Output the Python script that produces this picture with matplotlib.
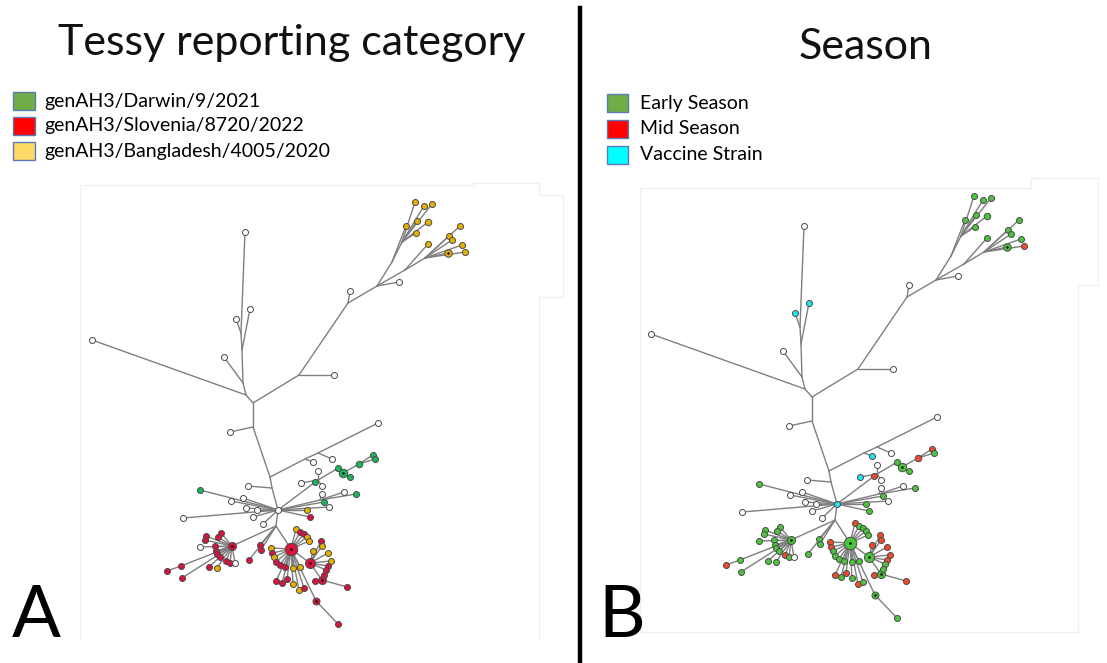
import numpy as np
import matplotlib.pyplot as plt
from matplotlib.patches import Rectangle

# tree nodes: (name, x, y, parent, tessy category, season)
# '-' = internal junction (no marker), 'ref' = reference / uncoloured strain
backbone = [
    ('m', 253, 403, None, '-', '-'),
    ('j3', 246, 395, 'm', '-', '-'),
    ('left', 92, 340, 'j3', 'ref', 'ref'),
    ('j2', 243, 383, 'j3', '-', '-'),
    ('n357', 224, 357, 'j2', 'ref', 'ref'),
    ('j1b', 242, 350, 'j2', '-', '-'),
    ('n309', 250, 309, 'j1b', 'ref', 'vac'),
    ('j1', 241, 333, 'j1b', '-', '-'),
    ('n319', 236, 319, 'j1', 'ref', 'vac'),
    ('top', 245, 232, 'j1', 'ref', 'ref'),
    ('r1', 299, 375, 'm', '-', '-'),
    ('n334', 334, 375, 'r1', 'ref', 'ref'),
    ('r2', 348, 303, 'r1', '-', '-'),
    ('n350', 350, 291, 'r2', 'ref', 'ref'),
    ('r3', 377, 286, 'r2', '-', '-'),
    ('n399', 399, 282, 'r3', 'ref', 'ref'),
    ('d1', 253, 427, 'm', '-', '-'),
    ('n230', 230, 432, 'd1', 'ref', 'ref'),
    ('d2', 270, 477, 'd1', '-', '-'),
    ('e1', 305, 459, 'd2', '-', '-'),
    ('n313', 313, 462, 'e1', 'ref', 'vac'),
    ('e2', 318, 453, 'e1', '-', '-'),
    ('n332', 332, 459, 'e2', 'ref', 'ref'),
    ('n378', 378, 423, 'e2', 'ref', 'ref'),
    ('d3', 272, 488, 'd2', '-', '-'),
    ('n248', 248, 486, 'd3', 'ref', 'ref'),
    ('h', 278, 510, 'd3', 'ref', 'vac'),
]

bangladesh_clade = [
    ('ya', 392, 262, 'r3', '-', '-'),
    ('y406', 406, 226, 'ya', 'ban', 'early'),
    ('yb', 402, 242, 'ya', '-', '-'),
    ('y415', 415, 202, 'yb', 'ban', 'early'),
    ('y424', 424, 206, 'yb', 'ban', 'early'),
    ('y432', 432, 204, 'yb', 'ban', 'early'),
    ('y417', 417, 221, 'yb', 'ban', 'early'),
    ('y428', 428, 222, 'yb', 'ban', 'early'),
    ('y416', 416, 233, 'yb', 'ban', 'early'),
    ('yc', 405, 270, 'r3', '-', '-'),
    ('y428b', 428, 244, 'yc', 'ban', 'early'),
    ('yd', 425, 258, 'yc', '-', '-'),
    ('y449', 449, 236, 'yd', 'ban', 'early'),
    ('y452', 452, 240, 'yd', 'ban', 'early'),
    ('y460', 460, 226, 'yd', 'ban', 'early'),
    ('y462', 462, 245, 'yd', 'ban', 'early'),
    ('y465', 465, 252, 'yd', 'ban', 'mid'),
    ('y448', 448, 253, 'yd', 'ban', 'early'),
]

darwin_clade = [
    ('g1', 318, 480, 'h', '-', '-'),
    ('g2', 335, 470, 'g1', '-', '-'),
    ('gbig', 343, 473, 'g2', 'dar', 'early'),
    ('g338', 338, 468, 'g2', 'dar', 'early'),
    ('g350', 350, 477, 'gbig', 'dar', 'early'),
    ('g359', 359, 464, 'gbig', 'dar', 'mid'),
    ('g373', 373, 455, 'g359', 'dar', 'mid'),
    ('g375', 375, 459, 'g359', 'dar', 'early'),
    ('g315', 315, 482, 'g1', 'dar', 'mid'),
    ('w301', 301, 483, 'g1', 'ref', 'vac'),
    ('w318', 318, 471, 'g1', 'ref', 'ref'),
    ('w322', 322, 486, 'g1', 'ref', 'ref'),
    ('g4', 320, 500, 'h', '-', '-'),
    ('w344', 344, 492, 'g4', 'ref', 'ref'),
    ('g356', 356, 494, 'g4', 'dar', 'early'),
    ('w322b', 322, 494, 'g4', 'ref', 'ref'),
    ('g324', 324, 502, 'h', 'dar', 'early'),
    ('w329', 329, 507, 'h', 'ref', 'ref'),
    ('g200', 200, 490, 'h', 'dar', 'early'),
    ('w231', 231, 501, 'h', 'ref', 'ref'),
    ('w243', 243, 498, 'h', 'ref', 'ref'),
    ('w246', 246, 508, 'h', 'ref', 'ref'),
    ('w257', 257, 510, 'h', 'ref', 'ref'),
    ('w253', 253, 517, 'h', 'ref', 'ref'),
    ('w263', 263, 524, 'h', 'ref', 'ref'),
    ('w183', 183, 518, 'h', 'ref', 'ref'),
    ('b307', 307, 510, 'h', 'ban', 'early'),
    ('s310', 310, 517, 'h', 'slo', 'early'),
]

left_fan = [
    ('h2', 276, 526, 'h', '-', '-'),
    ('lh', 232, 546, 'h2', 'slo', 'early'),
    ('l206', 206, 536, 'lh', 'slo', 'early'),
    ('l205', 205, 540, 'lh', 'slo', 'early'),
    ('l221', 221, 533, 'lh', 'slo', 'early'),
    ('l218', 218, 537, 'lh', 'slo', 'early'),
    ('l200', 200, 547, 'lh', 'ref', 'early'),
    ('l215', 215, 546, 'lh', 'slo', 'early'),
    ('l216', 216, 551, 'lh', 'slo', 'early'),
    ('l217', 217, 554, 'lh', 'slo', 'early'),
    ('l220', 220, 557, 'lh', 'slo', 'early'),
    ('l226', 226, 561, 'lh', 'slo', 'mid'),
    ('l230', 230, 563, 'lh', 'slo', 'early'),
    ('l235', 235, 563, 'lh', 'ref', 'ref'),
    ('l209', 209, 567, 'lh', 'slo', 'early'),
    ('l217b', 217, 568, 'lh', 'ban', 'early'),
    ('l181', 181, 566, 'lh', 'slo', 'early'),
    ('l167', 167, 571, 'l181', 'slo', 'mid'),
    ('l182', 182, 578, 'lh', 'slo', 'early'),
    ('l260', 260, 545, 'h2', 'slo', 'early'),
    ('l261', 261, 550, 'h2', 'slo', 'early'),
    ('l249', 249, 560, 'h2', 'slo', 'early'),
]

main_fan = [
    ('mh', 291, 549, 'h2', 'slo', 'early'),
    ('sh', 310, 563, 'mh', 'slo', 'early'),
    ('th', 322, 580, 'sh', 'slo', 'early'),
    ('f296', 296, 529, 'mh', 'ban', 'mid'),
    ('f300', 300, 532, 'mh', 'slo', 'early'),
    ('f304', 304, 534, 'mh', 'slo', 'early'),
    ('f307', 307, 537, 'mh', 'ban', 'early'),
    ('f309', 309, 541, 'mh', 'ban', 'early'),
    ('f271', 271, 548, 'mh', 'ban', 'mid'),
    ('f272', 272, 553, 'mh', 'slo', 'mid'),
    ('f274', 274, 557, 'mh', 'ban', 'early'),
    ('f276', 276, 562, 'mh', 'slo', 'early'),
    ('f280', 280, 565, 'mh', 'slo', 'early'),
    ('f285', 285, 567, 'mh', 'slo', 'early'),
    ('f293', 293, 568, 'mh', 'ban', 'early'),
    ('f300b', 300, 567, 'mh', 'ban', 'early'),
    ('f276b', 276, 581, 'mh', 'slo', 'mid'),
    ('f282', 282, 583, 'mh', 'slo', 'early'),
    ('f287', 287, 579, 'mh', 'slo', 'mid'),
    ('f293b', 293, 584, 'mh', 'ban', 'early'),
    ('f299', 299, 590, 'mh', 'ban', 'mid'),
    ('f304b', 304, 588, 'mh', 'slo', 'early'),
    ('f316', 316, 601, 'mh', 'slo', 'early'),
    ('f338', 338, 624, 'f316', 'slo', 'early'),
    ('f321', 321, 541, 'sh', 'slo', 'mid'),
    ('f322', 322, 546, 'sh', 'ban', 'mid'),
    ('f313', 313, 551, 'sh', 'ban', 'mid'),
    ('f328', 328, 553, 'sh', 'ban', 'mid'),
    ('f331', 331, 561, 'sh', 'ban', 'mid'),
    ('f328b', 328, 566, 'sh', 'slo', 'mid'),
    ('f326', 326, 570, 'sh', 'slo', 'early'),
    ('f324', 324, 575, 'th', 'slo', 'early'),
    ('f315', 315, 581, 'th', 'slo', 'mid'),
    ('f347', 347, 587, 'th', 'slo', 'mid'),
]

# marker diameters (px) of the bigger, pooled nodes
big_nodes = {'mh': 12.5, 'sh': 10, 'th': 8, 'lh': 8, 'gbig': 8.5, 'g359': 6.5,
             'y428': 6.5, 'y448': 7.5, 'f316': 7}

tessy_labels = ['genAH3/Darwin/9/2021', 'genAH3/Slovenia/8720/2022',
                'genAH3/Bangladesh/4005/2020']
season_labels = ['Early Season', 'Mid Season', 'Vaccine Strain']

tessy_col = {'ref': 'white', 'dar': '#17b85a', 'slo': '#d8143e', 'ban': '#e8b000'}
season_col = {'ref': 'white', 'early': '#4cc53c', 'mid': '#ef4a2c', 'vac': '#22e4f2'}
tessy_legend = ['#70ad47', '#ff0000', '#ffd966']
season_legend = ['#70ad47', '#ff0000', '#00ffff']

nodes = backbone + bangladesh_clade + darwin_clade + left_fan + main_fan
pos = {n[0]: (n[1], n[2]) for n in nodes}

fig = plt.figure(figsize=(11.07, 6.63), dpi=100)
ax = fig.add_axes([0, 0, 1, 1])
ax.set_xlim(0, 1107)
ax.set_ylim(663, 0)
ax.axis('off')


def draw_tree(dx, dy, col_idx, cmap):
    for name, x, y, par, c1, c2 in nodes:
        if par is not None:
            px, py = pos[par]
            ax.plot([px + dx, x + dx], [py + dy, y + dy], color='#7f7f7f', lw=1.0,
                    zorder=1, solid_capstyle='round')
    for n in nodes:
        cat = n[col_idx]
        if cat == '-':
            continue
        d = big_nodes.get(n[0], 6)
        ax.scatter(n[1] + dx, n[2] + dy, s=(d * 0.72) ** 2, color=cmap[cat],
                   edgecolor='#4a4a4a', linewidth=0.7, zorder=3)
        if n[0] in big_nodes and d >= 7:
            ax.scatter(n[1] + dx, n[2] + dy, s=(2.5 * 0.72) ** 2, color='black',
                       linewidth=0, zorder=4)


# faint frames of the network images
ax.plot([539, 539, 563, 563, 539, 539, 472, 472, 80, 80],
        [640, 297, 297, 195, 195, 183, 183, 185, 185, 640], color='#f0f0f0', lw=1)
ax.plot([1078, 1078, 1098, 1098, 1031, 1031, 640, 640, 1078],
        [632, 285, 285, 178, 178, 188, 188, 632, 632], color='#f0f0f0', lw=1)

draw_tree(0, 0, 4, tessy_col)
draw_tree(559, -6, 5, season_col)

# divider
ax.plot([580, 580], [8, 663], color='black', lw=3.2)

font = 'Lato'
ax.text(292, 43, 'Tessy reporting category', ha='center', va='center',
        fontsize=31, family=font, color='#111111')
ax.text(866, 47, 'Season', ha='center', va='center', fontsize=31, family=font,
        color='#111111')

for i, (lab, c) in enumerate(zip(tessy_labels, tessy_legend)):
    y = 101 + i * 25
    ax.add_patch(Rectangle((13, y - 9), 22, 18, facecolor=c, edgecolor='#5a7bb5', lw=1))
    ax.text(44, y, lab, va='center', fontsize=14, family=font)

for i, (lab, c) in enumerate(zip(season_labels, season_legend)):
    y = 103 + i * 26
    ax.add_patch(Rectangle((607, y - 9), 21, 18, facecolor=c, edgecolor='#5a7bb5', lw=1))
    ax.text(640, y, lab, va='center', fontsize=14, family=font)

ax.text(12, 637, 'A', fontsize=52, family=font, va='baseline')
ax.text(598, 637, 'B', fontsize=52, family=font, va='baseline')

plt.savefig('out.png', dpi=100)
